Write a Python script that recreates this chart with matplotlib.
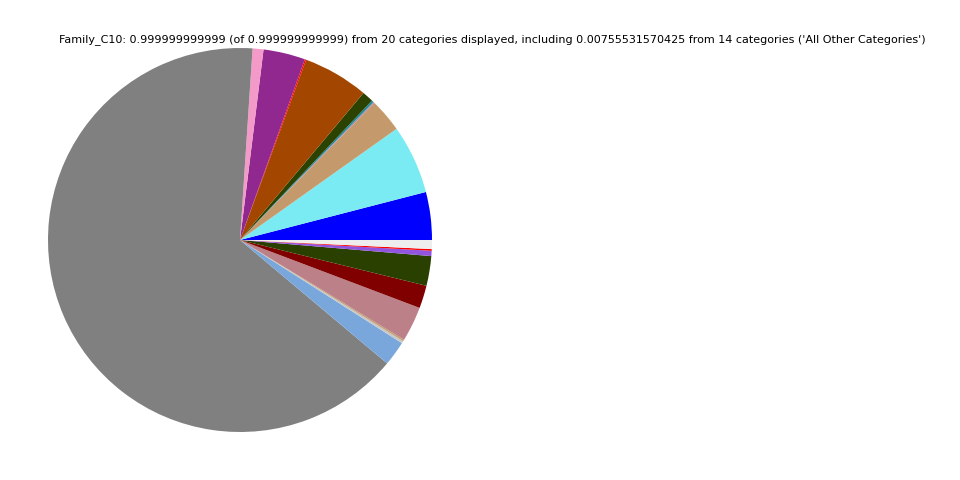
import matplotlib
matplotlib.use('Agg')
import matplotlib.pyplot as plt
import numpy as np

# slice sizes in degrees (counterclockwise from 3 o'clock)
labels = ['C01', 'C02', 'C03', 'C04', 'C05', 'C06', 'C07', 'C08', 'C09', 'C10',
          'C11', 'C12', 'C13', 'C14', 'C15', 'C16', 'C17', 'C18', 'C19',
          'All Other Categories']
degrees = [14.5, 20.9, 10.2, 0.4, 0.6, 3.4, 19.9, 0.4, 12.7, 3.3,
           233.9, 7.5, 0.7, 0.5, 10.6, 6.9, 9.0, 1.6, 0.5, 2.72]
colors = ['#0000ff', '#7aebf3', '#c49a6c', '#b88aa0', '#1a8a99', '#2b4200',
          '#a34700', '#ff0000', '#912890', '#f49ac8', '#808080', '#7aa7db',
          '#c8c8c8', '#c4a070', '#bc8088', '#800000', '#2a4000', '#9155e0',
          '#ff0000', '#eeeeee']

values = np.array(degrees) / sum(degrees)

fig = plt.figure(figsize=(9.6, 4.8), dpi=100)
ax = fig.add_axes([48 / 960, 48 / 480, 384 / 960, 384 / 480])
ax.pie(values, colors=colors, startangle=0)
ax.set_xlim(-1, 1)
ax.set_ylim(-1, 1)
ax.set_aspect('equal')

fig.text(492 / 960, 1 - 40 / 480,
         "Family_C10: 0.999999999999 (of 0.999999999999) from 20 categories displayed, "
         "including 0.00755531570425 from 14 categories ('All Other Categories')",
         ha='center', va='center', fontsize=8)

fig.savefig('out.png', dpi=100)
